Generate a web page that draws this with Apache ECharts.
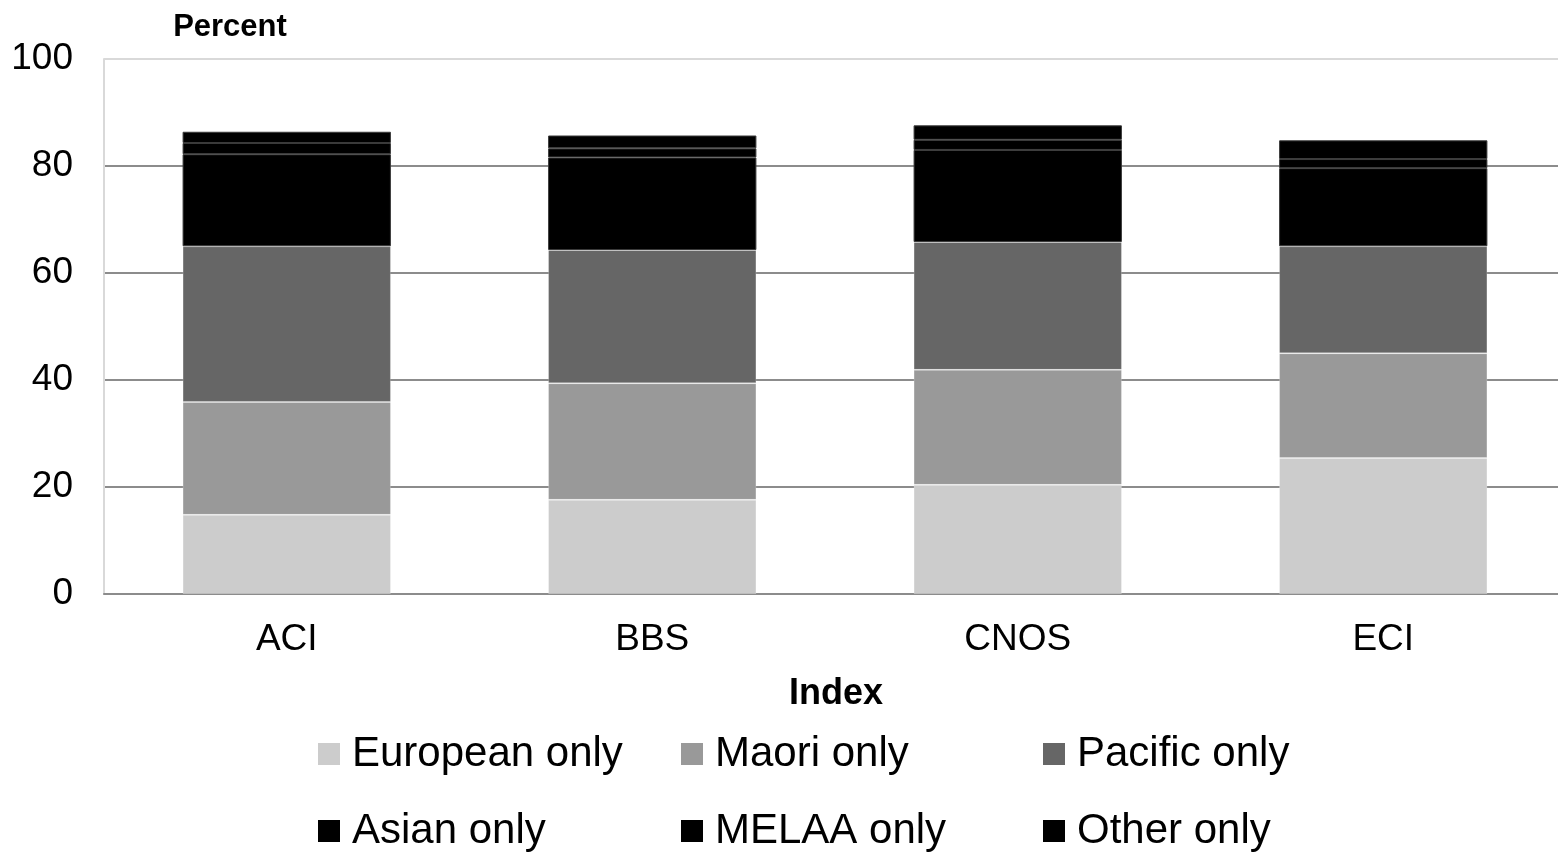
<!DOCTYPE html>
<html>
<head>
<meta charset="utf-8">
<title>Index by ethnicity</title>
<script src="https://cdn.jsdelivr.net/npm/echarts@6/dist/echarts.min.js"></script>
<style>
  html, body { margin: 0; padding: 0; background: #fff; overflow: hidden; }
  /* canvas is a little wider than the window so the plot area runs off the right edge */
  #chart { width: 1566px; height: 853px; }
</style>
</head>
<body>
<div id="chart"></div>
<script>
// Categories and stacked shares (percent) for each ethnic group
const categories = ['ACI', 'BBS', 'CNOS', 'ECI'];
const european = [14.8, 17.6, 20.4, 25.4];
const maori    = [21.1, 21.8, 21.5, 19.6];
const pacific  = [29.1, 24.9, 23.9, 20.0];
const asian    = [17.2, 17.3, 17.2, 14.6];
const melaa    = [2.1, 1.7, 1.9, 1.7];
const other    = [2.1, 2.4, 2.7, 3.5];

const yTicks = [0, 20, 40, 60, 80, 100];

const groups = [
  { name: 'European only', data: european, color: '#cccccc', edge: 'rgba(255,255,255,0.2)' },
  { name: 'Maori only',    data: maori,    color: '#999999', edge: 'rgba(255,255,255,0.2)' },
  { name: 'Pacific only',  data: pacific,  color: '#666666', edge: 'rgba(255,255,255,0.2)' },
  { name: 'Asian only',    data: asian,    color: '#000000', edge: '#3a3a3a' },
  { name: 'MELAA only',    data: melaa,    color: '#000000', edge: '#3a3a3a' },
  { name: 'Other only',    data: other,    color: '#000000', edge: '#3a3a3a' }
];

const FONT = '"Liberation Sans", Arial, sans-serif';

// Legend laid out as a 3 x 2 block, one component per entry
const legendSlots = [
  { left: 318, top: 733 }, { left: 681, top: 733 }, { left: 1043, top: 733 },
  { left: 318, top: 810 }, { left: 681, top: 810 }, { left: 1043, top: 810 }
];

const chart = echarts.init(document.getElementById('chart'), null, { renderer: 'canvas' });

chart.setOption({
  animation: false,
  backgroundColor: '#ffffff',
  grid: { left: 104, top: 59, bottom: 259, right: 0, containLabel: false },
  title: [
    {
      text: 'Percent', left: 225, top: 7, textAlign: 'center',
      textStyle: { fontFamily: FONT, fontSize: 31, fontWeight: 'bold', color: '#000' }
    },
    {
      text: 'Index', left: 831, top: 671, textAlign: 'center',
      textStyle: { fontFamily: FONT, fontSize: 36, fontWeight: 'bold', color: '#000' }
    }
  ],
  legend: groups.map((g, i) => ({
    data: [g.name],
    left: legendSlots[i].left,
    top: legendSlots[i].top,
    padding: 0,
    icon: 'rect',
    itemWidth: 22,
    itemHeight: 22,
    selectedMode: false,
    itemStyle: { borderWidth: 0 },
    textStyle: { fontFamily: FONT, fontSize: 42, color: '#000', padding: [0, 0, 0, 7] }
  })),
  xAxis: {
    type: 'category',
    data: categories,
    axisLine: { show: true, lineStyle: { color: '#8c8c8c', width: 2 } },
    axisTick: { show: false },
    axisLabel: { fontFamily: FONT, fontSize: 37, color: '#000', margin: 27 }
  },
  yAxis: {
    type: 'value',
    min: yTicks[0],
    max: yTicks[yTicks.length - 1],
    interval: 20,
    axisLine: { show: true, lineStyle: { color: '#d9d9d9', width: 2 } },
    axisTick: { show: false },
    axisLabel: { fontFamily: FONT, fontSize: 37, color: '#000', margin: 31 },
    splitLine: {
      show: true,
      lineStyle: {
        color: ['#8c8c8c', '#8c8c8c', '#8c8c8c', '#8c8c8c', '#8c8c8c', '#d9d9d9'],
        width: 2
      }
    }
  },
  series: groups.map(g => ({
    name: g.name,
    type: 'bar',
    stack: 'total',
    data: g.data,
    barWidth: '57%',
    itemStyle: {
      color: g.color,
      borderColor: g.edge,
      borderWidth: 1
    }
  }))
});
</script>
</body>
</html>
